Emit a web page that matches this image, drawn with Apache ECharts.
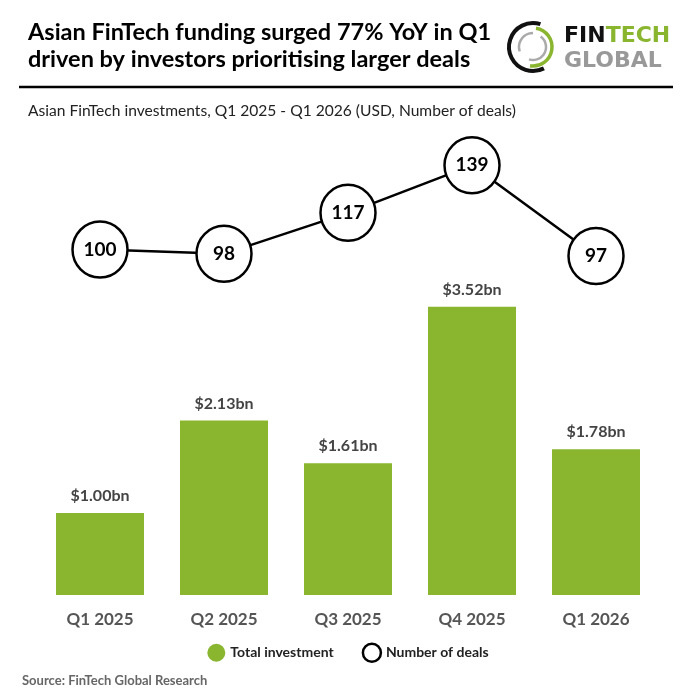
<!DOCTYPE html>
<html><head><meta charset="utf-8">
<script src="https://cdn.jsdelivr.net/npm/echarts@6/dist/echarts.min.js"></script>
<style>html,body{margin:0;padding:0;background:#fff}#c{width:696px;height:696px}</style>
</head><body><div id="c"></div>
<script>
const categories = ['Q1 2025','Q2 2025','Q3 2025','Q4 2025','Q1 2026'];
const investment = [1.00, 2.13, 1.61, 3.52, 1.78];
const deals = [100, 98, 117, 139, 97];
const FONT = 'Lato';
const chart = echarts.init(document.getElementById('c'));
chart.setOption({
  backgroundColor:'#fff',
  animation:false,
  textStyle:{fontFamily:FONT},
  grid:{left:38,right:38,top:120,bottom:101,containLabel:false},
  xAxis:{type:'category',data:categories,axisLine:{show:false},axisTick:{show:false},
    axisLabel:{color:'#555',fontWeight:'bold',fontSize:17,fontFamily:FONT,margin:16}},
  yAxis:[
    {type:'value',min:0,max:5.8,show:false,splitLine:{show:false}},
    {type:'value',min:-60,max:160,show:false,splitLine:{show:false}}
  ],
  legend:{bottom:28,left:'center',itemWidth:18,itemHeight:18,itemGap:28,
    textStyle:{fontFamily:FONT,fontWeight:'bold',fontSize:14,color:'#222'},
    data:[
      {name:'Total investment',icon:'circle',itemStyle:{color:'#8ab52f'}},
      {name:'Number of deals',icon:'circle',itemStyle:{color:'#fff',borderColor:'#000',borderWidth:2.5}}
    ]},
  series:[
    {name:'Total investment',type:'bar',data:investment,yAxisIndex:0,barWidth:88,
      itemStyle:{color:'#8ab52f'},
      label:{show:true,position:'top',distance:9,color:'#444',fontWeight:'bold',fontSize:16,fontFamily:FONT,
        formatter:p=>'$'+p.value.toFixed(2)+'bn'}},
    {name:'Number of deals',type:'line',data:deals,yAxisIndex:1,symbol:'circle',symbolSize:[55,56],
      lineStyle:{color:'#000',width:2.5},
      itemStyle:{color:'#fff',borderColor:'#000',borderWidth:2.5},
      label:{show:true,position:'inside',color:'#000',fontWeight:'bold',fontSize:19,fontFamily:FONT},
      z:5}
  ],
  graphic:[
    {type:'text',left:28,top:19,style:{text:'Asian FinTech funding surged 77% YoY in Q1\ndriven by investors prioritising larger deals',
      font:'bold 23.5px '+FONT,fill:'#000',lineHeight:27}},
    {type:'line',shape:{x1:19,y1:87,x2:673,y2:87},style:{stroke:'#000',lineWidth:2.5}},
    {type:'text',left:28,top:103,style:{text:'Asian FinTech investments, Q1 2025 - Q1 2026 (USD, Number of deals)',
      font:'15.6px '+FONT,fill:'#222'}},
    {type:'text',left:22,top:674,style:{text:'Source: FinTech Global Research',font:'bold 13px '+FONT,fill:'#666'}},
    // logo
    {type:'arc',shape:{cx:533,cy:47,r:24,startAngle:Math.PI*0.35,endAngle:Math.PI*1.6,clockwise:true},style:{stroke:'#111',lineWidth:4,fill:null}},
    {type:'arc',shape:{cx:533,cy:47,r:19,startAngle:-Math.PI*0.45,endAngle:Math.PI*0.55,clockwise:true},style:{stroke:'#8ab52f',lineWidth:3.5,fill:null}},
    {type:'arc',shape:{cx:533,cy:47,r:14,startAngle:Math.PI*0.9,endAngle:Math.PI*1.5,clockwise:true},style:{stroke:'#aaa',lineWidth:2.5,fill:null}},
    {type:'arc',shape:{cx:533,cy:47,r:13,startAngle:-Math.PI*0.3,endAngle:Math.PI*0.6,clockwise:true},style:{stroke:'#aaa',lineWidth:2.5,fill:null}},
    {type:'text',left:564,top:25,style:{rich:{a:{font:'bold 22px "DejaVu Sans"',fill:'#111'},b:{font:'bold 22px "DejaVu Sans"',fill:'#8ab52f'}},text:'{a|FIN}{b|TECH}'}},
    {type:'text',left:564,top:50,style:{text:'GLOBAL',font:'bold 22px "DejaVu Sans"',fill:'#999'}}
  ]
});
</script></body></html>
